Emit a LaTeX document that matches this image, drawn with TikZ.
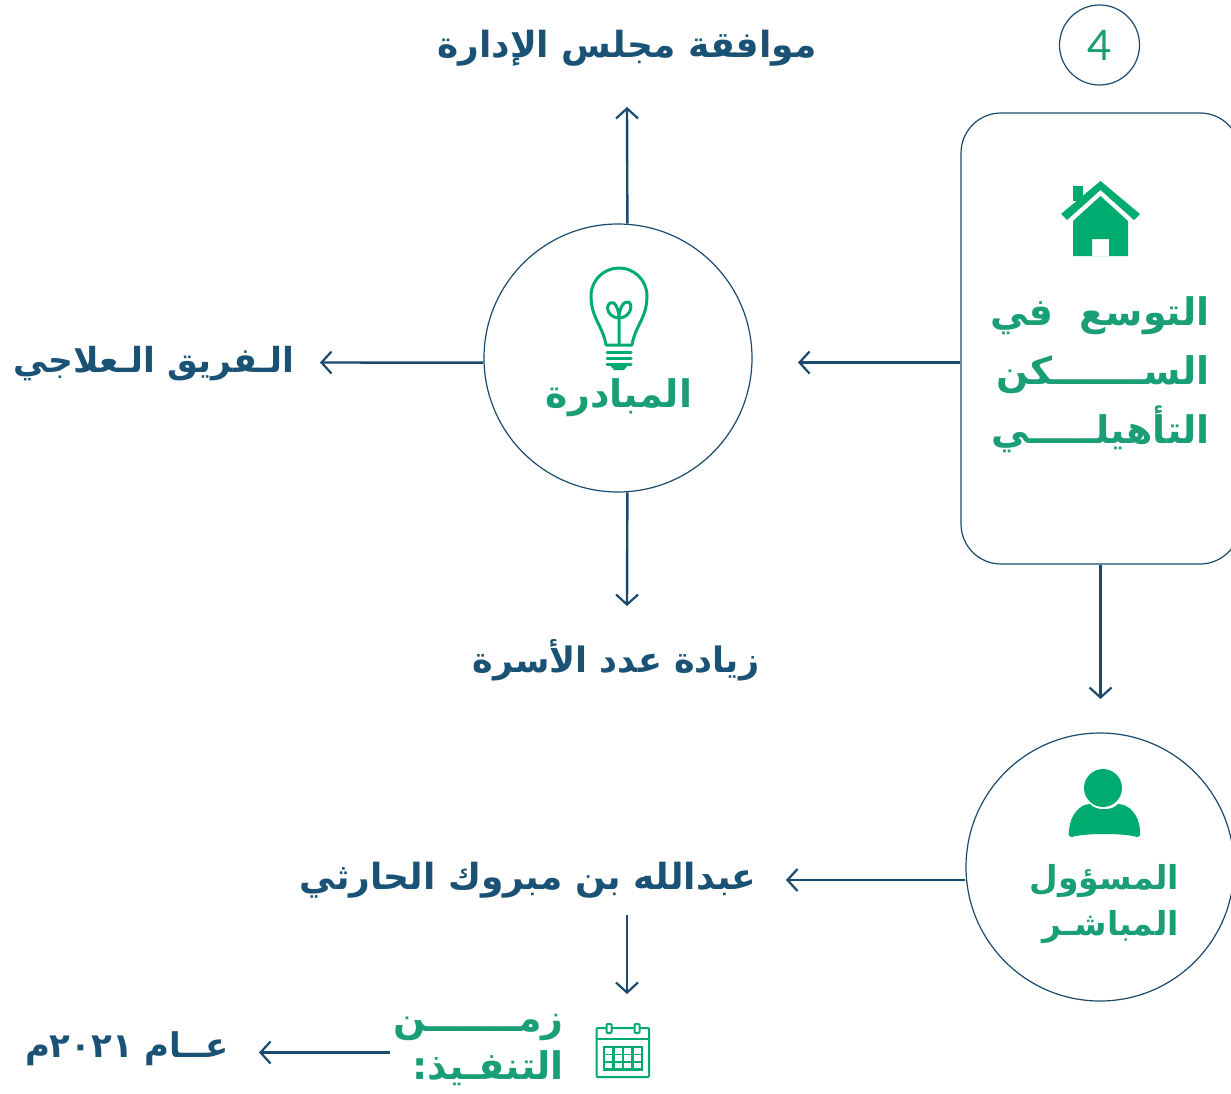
\documentclass[tikz,border=0pt]{standalone}
\usepackage{fontspec}
\setmainfont{Lato}
\newfontfamily\arabicfont[Script=Arabic]{DejaVu Sans}
\TeXXeTstate=1
\usetikzlibrary{arrows.meta}
\definecolor{navyline}{HTML}{1A4B6E}
\definecolor{navytext}{HTML}{1A5276}
\definecolor{greentext}{HTML}{1A9E76}
\definecolor{greenicon}{HTML}{00AB6F}
\newcommand{\artext}[1]{\beginR #1\endR}

\begin{document}
\begin{tikzpicture}[x=1pt,y=-1pt,
		outline/.style={draw=navyline,line width=1.2pt,inner sep=0pt},
		roundnode/.style={outline,circle,minimum size=268pt},
		link/.style={draw=navyline,line width=2.4pt,-{Straight Barb[length=10pt,width=22pt,line width=2.2pt]}},
		navylabel/.style={text=navytext,font=\arabicfont\bfseries\fontsize{36}{40}\selectfont,inner sep=0pt},
		greenlabel/.style={text=greentext,align=right,font=\arabicfont\bfseries\fontsize{38}{59}\selectfont,inner sep=0pt},
		smalllabel/.style={greenlabel,font=\arabicfont\bfseries\fontsize{33}{46}\selectfont},
		iconline/.style={draw=greenicon,line width=3pt,line join=round,line cap=round}]
	\useasboundingbox (0,0) rectangle (1231,1094);
	\clip (0,0) rectangle (1231,1094);
	% nodes
	\node[outline,circle,minimum size=80pt,text=greentext,font=\fontsize{42}{50}\selectfont] (number) at (1099.5,45) {4};
	\node[outline,rounded corners=40pt,minimum width=279pt,minimum height=451pt] (housebox) at (1100.5,338.5) {};
	\node[roundnode] (initiative) at (618,358) {};
	\node[roundnode] (owner) at (1100,867) {};
	\node[navylabel] (approval) at (627,48) {\artext{موافقة مجلس الإدارة}};
	\node[navylabel,font=\arabicfont\bfseries\fontsize{34.5}{40}\selectfont] (team) at (154,364) {\artext{الـفريق الـعلاجي}};
	\node[navylabel,font=\arabicfont\bfseries\fontsize{35}{40}\selectfont] (increase) at (616,660) {\artext{زيادة عدد الأسرة}};
	\node[navylabel] (person) at (528,880) {\artext{عبدالله بن مبروك الحارثي}};
	\node[navylabel,font=\arabicfont\bfseries\fontsize{34}{40}\selectfont] (year) at (127,1049) {\artext{عــام \beginL ٢٠٢١\endL م}};
	\node[greenlabel,anchor=east] (houselabel) at (1210,375) {\artext{التوسع\ \ في}\\\artext{الســـــــكن}\\\artext{التأهيلـــــي}};
	\node[greenlabel,anchor=center,font=\arabicfont\bfseries\fontsize{38}{40}\selectfont] (initiativelabel) at (619,398) {\artext{المبادرة}};
	\node[smalllabel,anchor=east] (ownerlabel) at (1179,904) {\artext{المسؤول}\\\artext{المباشـر}};
	\node[smalllabel,anchor=east,font=\arabicfont\bfseries\fontsize{38}{48}\selectfont] (timelabel) at (564,1050) {\artext{زمـــــــن}\\\artext{التنفـيذ:}};
	% free ends of the arrows
	\coordinate (toapproval) at (627,107);
	\coordinate (toteam) at (320,362.5);
	\coordinate (toincrease) at (627,606);
	\coordinate (toinitiative) at (798,362.5);
	\coordinate (toowner) at (1100.5,699);
	\coordinate (toperson) at (786,880);
	\coordinate (fromperson) at (627,915);
	\coordinate (totime) at (627,994);
	\coordinate (fromtime) at (390,1052.5);
	\coordinate (toyear) at (259,1052.5);
	% arrows
	\draw[link] (initiative.86) -- (toapproval);
	\draw[link] (initiative.182) -- (toteam);
	\draw[link] (initiative.-86) -- (toincrease);
	\draw[link] (housebox.west |- toinitiative) -- (toinitiative);
	\draw[link] (housebox.south) -- (toowner);
	\draw[link] (owner.west |- toperson) -- (toperson);
	\draw[link] (fromperson) -- (totime);
	\draw[link] (fromtime) -- (toyear);
	% house
	\fill[greenicon] (1073,186) rectangle (1083,201);
	\fill[greenicon] (1061,214) -- (1100.5,181) -- (1140,214) -- (1134,220) -- (1100.5,190) -- (1067,220) -- cycle;
	\fill[greenicon,even odd rule] (1073,221) -- (1100.5,196) -- (1128,221) -- (1128,256) -- (1073,256) -- cycle
		(1092,239) rectangle (1109,256);
	% bulb
	\draw[iconline] (606,345) .. controls (603,326) and (591,318) .. (591,296) .. controls (591,280) and (604,268) .. (619,268) .. controls (634,268) and (647,280) .. (647,296) .. controls (647,318) and (635,326) .. (632,345) -- cycle;
	\draw[iconline] (619,345) -- (619,318) .. controls (610,318) and (604,308) .. (610,303) .. controls (615,300) and (619,310) .. (619,318) .. controls (619,310) and (623,300) .. (629,302) .. controls (634,308) and (628,318) .. (619,318);
	\foreach \liney in {352,358,364}
		\draw[iconline] (607,\liney) -- (631,\liney);
	\fill[greenicon] (610,365) -- (628,365) -- (624,370) -- (614,370) -- cycle;
	% person
	\fill[greenicon] (1103,788) circle (19);
	\fill[greenicon] (1072,837) .. controls (1067,837) and (1069,833) .. (1069,830) .. controls (1070,815) and (1080,804) .. (1090,804) .. controls (1096,811) and (1112,811) .. (1118,804) .. controls (1129,804) and (1139,815) .. (1140,830) .. controls (1140,833) and (1141,837) .. (1137,837) .. controls (1125,833) and (1084,833) .. (1072,837) -- cycle;
	% calendar
	\draw[greenicon,line width=2pt,rounded corners=1pt] (596.5,1028) rectangle (649,1077);
	\draw[greenicon,line width=2pt] (596.5,1039) -- (649,1039);
	\foreach \ringx in {609,637}
		\draw[greenicon,line width=2pt,fill=white,rounded corners=1pt] (\ringx-2.5,1024) rectangle (\ringx+2.5,1033);
	\fill[greenicon] (603,1046) rectangle (643,1071);
	\foreach \colx in {0,1,2,3}
		\foreach \rowy in {0,1,2}
			\fill[white] (605+\colx*9.5,1048+\rowy*7.3) rectangle +(7.2,5.5);
\end{tikzpicture}
\end{document}
